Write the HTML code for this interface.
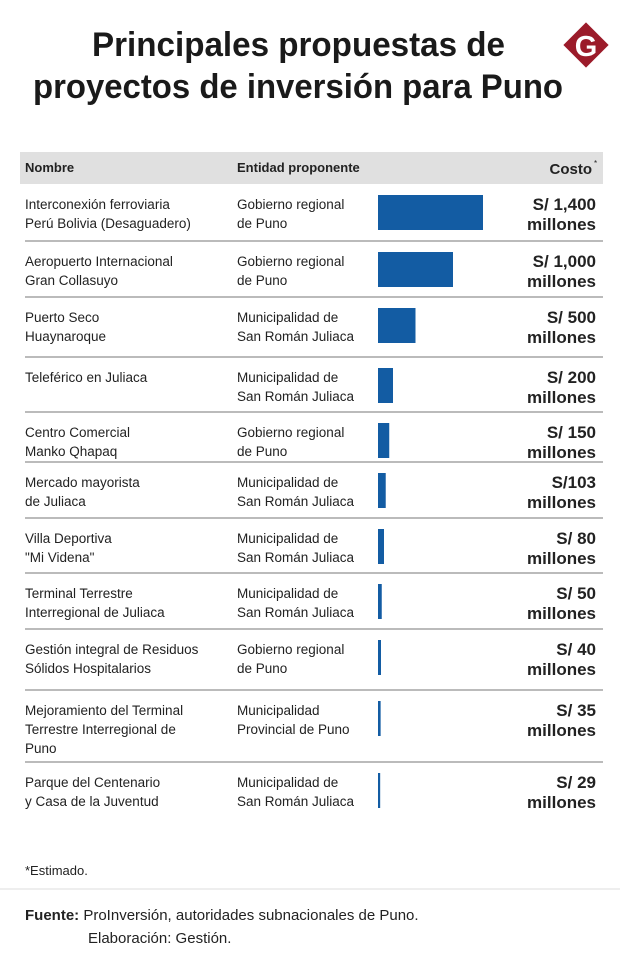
<!DOCTYPE html>
<html><head><meta charset="utf-8"><style>
body{margin:0;background:#fff;width:620px;height:963px;overflow:hidden;font-family:"Liberation Sans",sans-serif}
svg{display:block}
</style></head><body>
<svg id="chart" width="620" height="963" xmlns="http://www.w3.org/2000/svg">
<g font-family="Liberation Sans" font-weight="bold" font-size="34" fill="#1a1a1a">
<text x="92" y="56" textLength="413" lengthAdjust="spacingAndGlyphs">Principales propuestas de</text>
<text x="33" y="98" textLength="530" lengthAdjust="spacingAndGlyphs">proyectos de inversión para Puno</text>
</g>
<g>
<rect x="570" y="29" width="32" height="32" fill="#9b1b2a" transform="rotate(45 586 45)"/>
<text x="586" y="56" text-anchor="middle" font-size="29" font-weight="bold" fill="#fff">G</text>
</g>
<rect x="20" y="152" width="583" height="32" fill="#e0e0e0"/>
<text x="25" y="172" font-size="13" font-weight="bold" fill="#222">Nombre</text>
<text x="237" y="172" font-size="13" font-weight="bold" fill="#222">Entidad proponente</text>
<text x="592" y="174" text-anchor="end" font-size="15" font-weight="bold" fill="#222">Costo</text>
<text x="594" y="166" font-size="8" fill="#222">*</text>
<g id="rows"></g>
<text x="25" y="875" font-size="13" fill="#222">*Estimado.</text>
<line x1="0" y1="889" x2="620" y2="889" stroke="#ddd" stroke-width="1"/>
<text x="25" y="920" font-size="15" fill="#222"><tspan font-weight="bold">Fuente:</tspan> ProInversión, autoridades subnacionales de Puno.</text>
<text x="88" y="943" font-size="15" fill="#222">Elaboración: Gestión.</text>
</svg>
<script>
const names=[["Interconexión ferroviaria","Perú Bolivia (Desaguadero)"],["Aeropuerto Internacional","Gran Collasuyo"],["Puerto Seco","Huaynaroque"],["Teleférico en Juliaca"],["Centro Comercial","Manko Qhapaq"],["Mercado mayorista","de Juliaca"],["Villa Deportiva","\"Mi Videna\""],["Terminal Terrestre","Interregional de Juliaca"],["Gestión integral de Residuos","Sólidos Hospitalarios"],["Mejoramiento del Terminal","Terrestre Interregional de","Puno"],["Parque del Centenario","y Casa de la Juventud"]];
const entities=[["Gobierno regional","de Puno"],["Gobierno regional","de Puno"],["Municipalidad de","San Román Juliaca"],["Municipalidad de","San Román Juliaca"],["Gobierno regional","de Puno"],["Municipalidad de","San Román Juliaca"],["Municipalidad de","San Román Juliaca"],["Municipalidad de","San Román Juliaca"],["Gobierno regional","de Puno"],["Municipalidad","Provincial de Puno"],["Municipalidad de","San Román Juliaca"]];
const costs=[1400,1000,500,200,150,103,80,50,40,35,29];
const costLabels=["S/ 1,400","S/ 1,000","S/ 500","S/ 200","S/ 150","S/103","S/ 80","S/ 50","S/ 40","S/ 35","S/ 29"];
const rowTops=[184,241,297,357,412,462,518,573,629,690,762];
const NS="http://www.w3.org/2000/svg";
const g=document.getElementById('rows');
const x=v=>v*0.075;
function txt(xp,yp,s,o){const t=document.createElementNS(NS,'text');t.setAttribute('x',xp);t.setAttribute('y',yp);t.setAttribute('font-size',o.fs||13.5);t.setAttribute('fill','#222');if(o.b)t.setAttribute('font-weight','bold');if(o.a)t.setAttribute('text-anchor',o.a);t.textContent=s;g.appendChild(t);return t;}
costs.forEach((c,i)=>{
const top=rowTops[i];
if(i>0){const l=document.createElementNS(NS,'line');


l.setAttribute('x1',25);l.setAttribute('x2',603);l.setAttribute('y1',top);l.setAttribute('y2',top);l.setAttribute('stroke','#777');g.appendChild(l);}
names[i].forEach((s,j)=>{const t=txt(25,top+25+j*19,s,{});

});
entities[i].forEach((s,j)=>{const t=txt(237,top+25+j*19,s,{});

});
const r=document.createElementNS(NS,'rect');


r.setAttribute('x',378);r.setAttribute('y',top+11);r.setAttribute('width',Math.max(2,x(c)));r.setAttribute('height',35);r.setAttribute('fill','#135ca3');g.appendChild(r);
const a=txt(596,top+26,costLabels[i],{b:1,fs:17,a:'end'});


const b=txt(596,top+46,'millones',{b:1,fs:17,a:'end'});


});
</script>
</body></html>
